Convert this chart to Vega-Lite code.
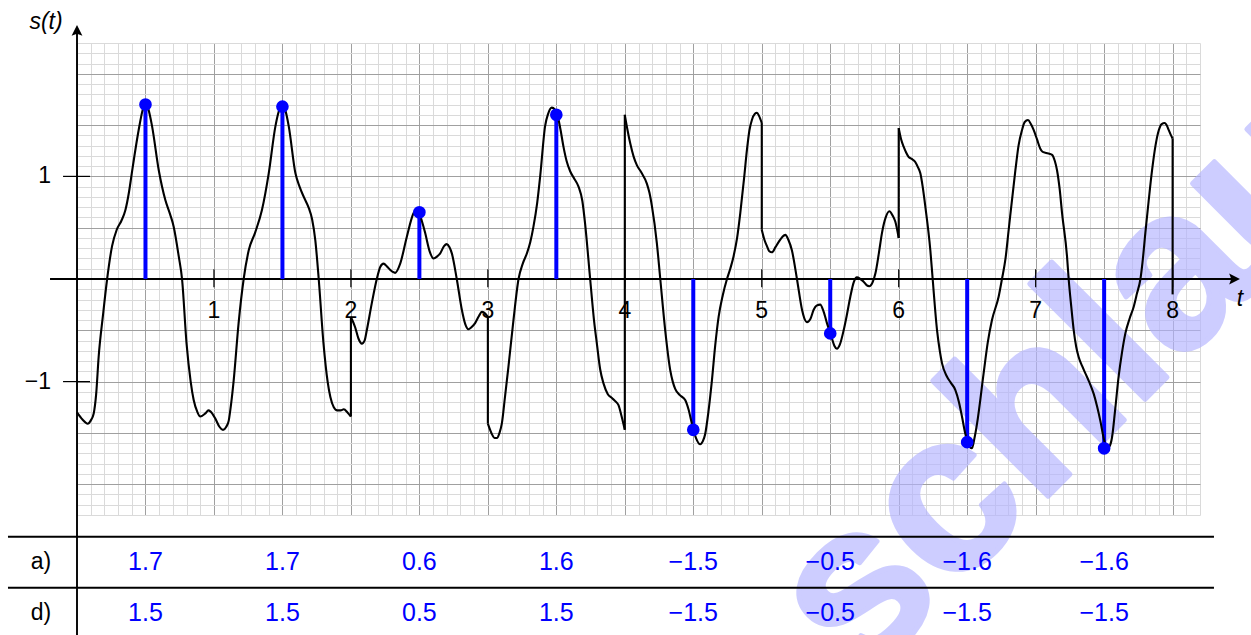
{
  "$schema": "https://vega.github.io/schema/vega-lite/v6.json",
  "autosize": {"type": "none"},
  "padding": {"left": 77, "top": 43, "right": 51, "bottom": 120},
  "width": 1123,
  "height": 472,
  "background": "white",
  "config": {"view": {"stroke": null}, "font": "Liberation Sans"},
  "datasets": {
    "curve": [
      {"g":"A","t":0,"s":-1.30},{"g":"A","t":0.04,"s":-1.37},{"g":"A","t":0.078,"s":-1.41},{"g":"A","t":0.10,"s":-1.38},{"g":"A","t":0.122,"s":-1.31},{"g":"A","t":0.14,"s":-1.12},{"g":"A","t":0.158,"s":-0.76},{"g":"A","t":0.19,"s":-0.35},{"g":"A","t":0.22,"s":0},{"g":"A","t":0.256,"s":0.32},{"g":"A","t":0.29,"s":0.48},{"g":"A","t":0.325,"s":0.57},{"g":"A","t":0.353,"s":0.67},{"g":"A","t":0.38,"s":0.85},{"g":"A","t":0.40,"s":1.03},{"g":"A","t":0.45,"s":1.45},{"g":"A","t":0.48,"s":1.65},{"g":"A","t":0.5,"s":1.71},{"g":"A","t":0.52,"s":1.66},{"g":"A","t":0.548,"s":1.49},{"g":"A","t":0.597,"s":1.06},{"g":"A","t":0.645,"s":0.77},{"g":"A","t":0.68,"s":0.63},{"g":"A","t":0.706,"s":0.51},{"g":"A","t":0.743,"s":0.22},{"g":"A","t":0.767,"s":0},{"g":"A","t":0.80,"s":-0.63},{"g":"A","t":0.83,"s":-1.0},{"g":"A","t":0.852,"s":-1.18},{"g":"A","t":0.88,"s":-1.30},{"g":"A","t":0.90,"s":-1.34},{"g":"A","t":0.937,"s":-1.31},{"g":"A","t":0.96,"s":-1.28},{"g":"A","t":0.974,"s":-1.29},{"g":"A","t":1.01,"s":-1.36},{"g":"A","t":1.04,"s":-1.44},{"g":"A","t":1.066,"s":-1.47},{"g":"A","t":1.09,"s":-1.44},{"g":"A","t":1.108,"s":-1.38},{"g":"A","t":1.125,"s":-1.22},{"g":"A","t":1.144,"s":-0.99},{"g":"A","t":1.18,"s":-0.43},{"g":"A","t":1.217,"s":0},{"g":"A","t":1.254,"s":0.28},{"g":"A","t":1.30,"s":0.45},{"g":"A","t":1.35,"s":0.67},{"g":"A","t":1.40,"s":1.03},{"g":"A","t":1.449,"s":1.49},{"g":"A","t":1.48,"s":1.66},{"g":"A","t":1.5,"s":1.70},{"g":"A","t":1.52,"s":1.65},{"g":"A","t":1.546,"s":1.49},{"g":"A","t":1.595,"s":1.03},{"g":"A","t":1.625,"s":0.90},{"g":"A","t":1.656,"s":0.80},{"g":"A","t":1.69,"s":0.70},{"g":"A","t":1.717,"s":0.58},{"g":"A","t":1.74,"s":0.38},{"g":"A","t":1.765,"s":0},{"g":"A","t":1.80,"s":-0.63},{"g":"A","t":1.83,"s":-1.0},{"g":"A","t":1.85,"s":-1.15},{"g":"A","t":1.875,"s":-1.25},{"g":"A","t":1.90,"s":-1.28},{"g":"A","t":1.925,"s":-1.28},{"g":"A","t":1.948,"s":-1.27},{"g":"A","t":1.975,"s":-1.30},{"g":"A","t":2.0,"s":-1.34},
      {"g":"J1","t":2.0,"s":-1.34},{"g":"J1","t":2.0,"s":-0.37},
      {"g":"B","t":2.0,"s":-0.37},{"g":"B","t":2.031,"s":-0.47},{"g":"B","t":2.055,"s":-0.58},{"g":"B","t":2.08,"s":-0.63},{"g":"B","t":2.10,"s":-0.60},{"g":"B","t":2.116,"s":-0.50},{"g":"B","t":2.152,"s":-0.24},{"g":"B","t":2.189,"s":0},{"g":"B","t":2.215,"s":0.12},{"g":"B","t":2.238,"s":0.15},{"g":"B","t":2.265,"s":0.12},{"g":"B","t":2.286,"s":0.09},{"g":"B","t":2.305,"s":0.07},{"g":"B","t":2.323,"s":0.06},{"g":"B","t":2.36,"s":0.15},{"g":"B","t":2.408,"s":0.41},{"g":"B","t":2.457,"s":0.64},{"g":"B","t":2.48,"s":0.68},{"g":"B","t":2.493,"s":0.67},{"g":"B","t":2.515,"s":0.58},{"g":"B","t":2.542,"s":0.45},{"g":"B","t":2.575,"s":0.27},{"g":"B","t":2.603,"s":0.20},{"g":"B","t":2.63,"s":0.22},{"g":"B","t":2.652,"s":0.25},{"g":"B","t":2.68,"s":0.32},{"g":"B","t":2.70,"s":0.34},{"g":"B","t":2.72,"s":0.31},{"g":"B","t":2.737,"s":0.25},{"g":"B","t":2.773,"s":0},{"g":"B","t":2.81,"s":-0.30},{"g":"B","t":2.835,"s":-0.44},{"g":"B","t":2.858,"s":-0.49},{"g":"B","t":2.88,"s":-0.47},{"g":"B","t":2.907,"s":-0.43},{"g":"B","t":2.935,"s":-0.36},{"g":"B","t":2.956,"s":-0.32},{"g":"B","t":2.975,"s":-0.33},{"g":"B","t":3.0,"s":-0.37},
      {"g":"J2","t":3.0,"s":-0.37},{"g":"J2","t":3.0,"s":-1.41},
      {"g":"C","t":3.0,"s":-1.41},{"g":"C","t":3.029,"s":-1.51},{"g":"C","t":3.05,"s":-1.55},{"g":"C","t":3.066,"s":-1.55},{"g":"C","t":3.085,"s":-1.50},{"g":"C","t":3.102,"s":-1.41},{"g":"C","t":3.125,"s":-1.15},{"g":"C","t":3.15,"s":-0.86},{"g":"C","t":3.187,"s":-0.40},{"g":"C","t":3.224,"s":0},{"g":"C","t":3.255,"s":0.15},{"g":"C","t":3.285,"s":0.25},{"g":"C","t":3.31,"s":0.36},{"g":"C","t":3.333,"s":0.51},{"g":"C","t":3.36,"s":0.74},{"g":"C","t":3.382,"s":1.0},{"g":"C","t":3.418,"s":1.49},{"g":"C","t":3.44,"s":1.61},{"g":"C","t":3.467,"s":1.67},{"g":"C","t":3.49,"s":1.65},{"g":"C","t":3.504,"s":1.62},{"g":"C","t":3.53,"s":1.46},{"g":"C","t":3.552,"s":1.29},{"g":"C","t":3.575,"s":1.15},{"g":"C","t":3.601,"s":1.05},{"g":"C","t":3.63,"s":0.98},{"g":"C","t":3.662,"s":0.90},{"g":"C","t":3.69,"s":0.76},{"g":"C","t":3.71,"s":0.54},{"g":"C","t":3.747,"s":0},{"g":"C","t":3.775,"s":-0.40},{"g":"C","t":3.796,"s":-0.63},{"g":"C","t":3.82,"s":-0.88},{"g":"C","t":3.845,"s":-1.02},{"g":"C","t":3.875,"s":-1.12},{"g":"C","t":3.906,"s":-1.16},{"g":"C","t":3.93,"s":-1.19},{"g":"C","t":3.954,"s":-1.23},{"g":"C","t":3.975,"s":-1.33},{"g":"C","t":4.0,"s":-1.47},
      {"g":"J3","t":4.0,"s":-1.47},{"g":"J3","t":4.0,"s":1.60},
      {"g":"D","t":4.0,"s":1.60},{"g":"D","t":4.02,"s":1.45},{"g":"D","t":4.04,"s":1.32},{"g":"D","t":4.065,"s":1.19},{"g":"D","t":4.088,"s":1.11},{"g":"D","t":4.12,"s":1.04},{"g":"D","t":4.161,"s":0.93},{"g":"D","t":4.18,"s":0.84},{"g":"D","t":4.198,"s":0.71},{"g":"D","t":4.234,"s":0.35},{"g":"D","t":4.259,"s":0},{"g":"D","t":4.295,"s":-0.50},{"g":"D","t":4.332,"s":-0.89},{"g":"D","t":4.35,"s":-1.0},{"g":"D","t":4.368,"s":-1.07},{"g":"D","t":4.40,"s":-1.13},{"g":"D","t":4.441,"s":-1.18},{"g":"D","t":4.465,"s":-1.27},{"g":"D","t":4.49,"s":-1.41},{"g":"D","t":4.52,"s":-1.55},{"g":"D","t":4.551,"s":-1.61},{"g":"D","t":4.57,"s":-1.58},{"g":"D","t":4.587,"s":-1.51},{"g":"D","t":4.61,"s":-1.30},{"g":"D","t":4.636,"s":-0.99},{"g":"D","t":4.66,"s":-0.65},{"g":"D","t":4.685,"s":-0.37},{"g":"D","t":4.715,"s":-0.16},{"g":"D","t":4.746,"s":0},{"g":"D","t":4.77,"s":0.10},{"g":"D","t":4.794,"s":0.22},{"g":"D","t":4.82,"s":0.40},{"g":"D","t":4.843,"s":0.64},{"g":"D","t":4.87,"s":0.97},{"g":"D","t":4.892,"s":1.26},{"g":"D","t":4.91,"s":1.45},{"g":"D","t":4.928,"s":1.55},{"g":"D","t":4.95,"s":1.61},{"g":"D","t":4.965,"s":1.62},{"g":"D","t":4.98,"s":1.59},{"g":"D","t":5.0,"s":1.52},
      {"g":"J4","t":5.0,"s":1.52},{"g":"J4","t":5.0,"s":0.48},
      {"g":"E","t":5.0,"s":0.48},{"g":"E","t":5.02,"s":0.38},{"g":"E","t":5.038,"s":0.32},{"g":"E","t":5.055,"s":0.27},{"g":"E","t":5.074,"s":0.26},{"g":"E","t":5.10,"s":0.31},{"g":"E","t":5.123,"s":0.36},{"g":"E","t":5.15,"s":0.41},{"g":"E","t":5.172,"s":0.43},{"g":"E","t":5.195,"s":0.38},{"g":"E","t":5.22,"s":0.28},{"g":"E","t":5.257,"s":0},{"g":"E","t":5.294,"s":-0.30},{"g":"E","t":5.31,"s":-0.38},{"g":"E","t":5.33,"s":-0.42},{"g":"E","t":5.355,"s":-0.39},{"g":"E","t":5.379,"s":-0.30},{"g":"E","t":5.40,"s":-0.26},{"g":"E","t":5.427,"s":-0.25},{"g":"E","t":5.45,"s":-0.31},{"g":"E","t":5.476,"s":-0.43},{"g":"E","t":5.508,"s":-0.56},{"g":"E","t":5.53,"s":-0.65},{"g":"E","t":5.549,"s":-0.68},{"g":"E","t":5.57,"s":-0.64},{"g":"E","t":5.598,"s":-0.50},{"g":"E","t":5.62,"s":-0.36},{"g":"E","t":5.647,"s":-0.17},{"g":"E","t":5.672,"s":-0.03},{"g":"E","t":5.695,"s":0.016},{"g":"E","t":5.72,"s":0.0},{"g":"E","t":5.744,"s":-0.026},{"g":"E","t":5.765,"s":-0.06},{"g":"E","t":5.785,"s":-0.07},{"g":"E","t":5.81,"s":-0.03},{"g":"E","t":5.83,"s":0.055},{"g":"E","t":5.855,"s":0.25},{"g":"E","t":5.878,"s":0.45},{"g":"E","t":5.905,"s":0.60},{"g":"E","t":5.932,"s":0.66},{"g":"E","t":5.955,"s":0.62},{"g":"E","t":5.975,"s":0.56},{"g":"E","t":6.0,"s":0.40},
      {"g":"J5","t":6.0,"s":0.40},{"g":"J5","t":6.0,"s":1.47},
      {"g":"F","t":6.0,"s":1.47},{"g":"F","t":6.018,"s":1.36},{"g":"F","t":6.036,"s":1.29},{"g":"F","t":6.055,"s":1.23},{"g":"F","t":6.072,"s":1.19},{"g":"F","t":6.095,"s":1.17},{"g":"F","t":6.121,"s":1.14},{"g":"F","t":6.14,"s":1.09},{"g":"F","t":6.158,"s":1.03},{"g":"F","t":6.175,"s":0.90},{"g":"F","t":6.194,"s":0.71},{"g":"F","t":6.231,"s":0.28},{"g":"F","t":6.248,"s":0},{"g":"F","t":6.28,"s":-0.50},{"g":"F","t":6.30,"s":-0.70},{"g":"F","t":6.316,"s":-0.82},{"g":"F","t":6.352,"s":-0.95},{"g":"F","t":6.38,"s":-1.01},{"g":"F","t":6.413,"s":-1.08},{"g":"F","t":6.44,"s":-1.20},{"g":"F","t":6.462,"s":-1.34},{"g":"F","t":6.485,"s":-1.50},{"g":"F","t":6.499,"s":-1.57},{"g":"F","t":6.52,"s":-1.64},{"g":"F","t":6.535,"s":-1.65},{"g":"F","t":6.552,"s":-1.56},{"g":"F","t":6.572,"s":-1.41},{"g":"F","t":6.62,"s":-0.92},{"g":"F","t":6.65,"s":-0.62},{"g":"F","t":6.681,"s":-0.40},{"g":"F","t":6.73,"s":-0.17},{"g":"F","t":6.754,"s":0},{"g":"F","t":6.78,"s":0.20},{"g":"F","t":6.803,"s":0.48},{"g":"F","t":6.852,"s":1.06},{"g":"F","t":6.875,"s":1.30},{"g":"F","t":6.90,"s":1.45},{"g":"F","t":6.92,"s":1.53},{"g":"F","t":6.944,"s":1.55},{"g":"F","t":6.965,"s":1.51},{"g":"F","t":6.986,"s":1.45},{"g":"F","t":7.01,"s":1.36},{"g":"F","t":7.034,"s":1.27},{"g":"F","t":7.05,"s":1.24},{"g":"F","t":7.071,"s":1.23},{"g":"F","t":7.10,"s":1.22},{"g":"F","t":7.12,"s":1.21},{"g":"F","t":7.14,"s":1.15},{"g":"F","t":7.156,"s":1.06},{"g":"F","t":7.175,"s":0.88},{"g":"F","t":7.193,"s":0.64},{"g":"F","t":7.229,"s":0.22},{"g":"F","t":7.241,"s":0},{"g":"F","t":7.26,"s":-0.27},{"g":"F","t":7.278,"s":-0.50},{"g":"F","t":7.296,"s":-0.66},{"g":"F","t":7.314,"s":-0.76},{"g":"F","t":7.34,"s":-0.85},{"g":"F","t":7.363,"s":-0.92},{"g":"F","t":7.39,"s":-1.0},{"g":"F","t":7.424,"s":-1.12},{"g":"F","t":7.45,"s":-1.25},{"g":"F","t":7.472,"s":-1.38},{"g":"F","t":7.50,"s":-1.57},{"g":"F","t":7.521,"s":-1.65},{"g":"F","t":7.54,"s":-1.63},{"g":"F","t":7.558,"s":-1.54},{"g":"F","t":7.58,"s":-1.28},{"g":"F","t":7.606,"s":-0.95},{"g":"F","t":7.63,"s":-0.72},{"g":"F","t":7.655,"s":-0.53},{"g":"F","t":7.685,"s":-0.39},{"g":"F","t":7.716,"s":-0.27},{"g":"F","t":7.74,"s":-0.14},{"g":"F","t":7.765,"s":0},{"g":"F","t":7.78,"s":0.16},{"g":"F","t":7.801,"s":0.45},{"g":"F","t":7.825,"s":0.76},{"g":"F","t":7.85,"s":1.06},{"g":"F","t":7.875,"s":1.30},{"g":"F","t":7.899,"s":1.45},{"g":"F","t":7.92,"s":1.51},{"g":"F","t":7.942,"s":1.52},{"g":"F","t":7.96,"s":1.49},{"g":"F","t":7.972,"s":1.45},{"g":"F","t":7.985,"s":1.41},{"g":"F","t":8.0,"s":1.37},
      {"g":"J6","t":8.0,"s":1.37},{"g":"J6","t":8.0,"s":-0.15}
    ],
    "samples": [
      {"t":0.5,"s":1.70},{"t":1.5,"s":1.68},{"t":2.5,"s":0.65},{"t":3.5,"s":1.60},
      {"t":4.5,"s":-1.47},{"t":5.5,"s":-0.53},{"t":6.5,"s":-1.59},{"t":7.5,"s":-1.65}
    ],
    "table": [
      {"t":0.5,"row":"a)","txt":"1.7"},{"t":1.5,"row":"a)","txt":"1.7"},{"t":2.5,"row":"a)","txt":"0.6"},{"t":3.5,"row":"a)","txt":"1.6"},
      {"t":4.5,"row":"a)","txt":"−1.5"},{"t":5.5,"row":"a)","txt":"−0.5"},{"t":6.5,"row":"a)","txt":"−1.6"},{"t":7.5,"row":"a)","txt":"−1.6"},
      {"t":0.5,"row":"d)","txt":"1.5"},{"t":1.5,"row":"d)","txt":"1.5"},{"t":2.5,"row":"d)","txt":"0.5"},{"t":3.5,"row":"d)","txt":"1.5"},
      {"t":4.5,"row":"d)","txt":"−1.5"},{"t":5.5,"row":"d)","txt":"−0.5"},{"t":6.5,"row":"d)","txt":"−1.5"},{"t":7.5,"row":"d)","txt":"−1.5"}
    ],
    "xticks": [
      {"t":1,"lab":"1"},{"t":2,"lab":"2"},{"t":3,"lab":"3"},{"t":4,"lab":"4"},
      {"t":5,"lab":"5"},{"t":6,"lab":"6"},{"t":7,"lab":"7"},{"t":8,"lab":"8"}
    ],
    "yticks": [{"s":1,"lab":"1"},{"s":-1,"lab":"−1"}]
  },
  "layer": [
    {
      "data": {"name": "curve"},
      "mark": {"type": "line", "opacity": 0},
      "encoding": {
        "x": {"field": "t", "type": "quantitative",
          "scale": {"domain": [0, 8.2], "nice": false, "zero": false},
          "axis": {"title": null, "labels": false, "ticks": false, "domain": false, "grid": true, "tickCount": 82,
            "gridWidth": 1,
            "gridColor": {"condition": {"test": "abs(datum.value*2 - round(datum.value*2)) < 0.001", "value": "#a0a0a0"}, "value": "#dadada"}}},
        "y": {"field": "s", "type": "quantitative",
          "scale": {"domain": [-2.3, 2.3], "nice": false, "zero": false},
          "axis": {"title": null, "labels": false, "ticks": false, "domain": false, "grid": true, "tickCount": 46,
            "gridWidth": 1,
            "gridColor": {"condition": {"test": "abs(datum.value*2 - round(datum.value*2)) < 0.001", "value": "#a0a0a0"}, "value": "#dadada"}}},
        "detail": {"field": "g"}
      }
    },
    {
      "data": {"values": [{}]},
      "mark": {"type": "text", "text": "schlau", "font": "Liberation Sans", "fontWeight": "bold", "fontSize": 225,
        "angle": 315, "align": "left", "baseline": "alphabetic", "fill": "#b3b3ff", "stroke": "#b3b3ff", "strokeWidth": 5, "strokeJoin": "round", "opacity": 0.65},
      "encoding": {"x": {"datum": 5.717}, "y": {"datum": -3.95}}
    },
    {
      "data": {"values": [{}]},
      "mark": {"type": "rule", "color": "black", "strokeWidth": 1.9},
      "encoding": {"x": {"datum": 0}, "y": {"datum": 2.42}, "y2": {"datum": -3.7}}
    },
    {
      "data": {"values": [{}]},
      "mark": {"type": "rule", "color": "black", "strokeWidth": 1.9},
      "encoding": {"y": {"datum": 0}, "x": {"datum": -0.197}, "x2": {"datum": 8.45}}
    },
    {
      "data": {"values": [{}]},
      "mark": {"type": "point", "shape": "M0,-1L0.9,0.8L0,0.45L-0.9,0.8Z", "filled": true, "color": "black", "size": 144, "opacity": 1},
      "encoding": {"x": {"datum": 0}, "y": {"datum": 2.417}}
    },
    {
      "data": {"values": [{}]},
      "mark": {"type": "point", "shape": "M1,0L-0.8,0.9L-0.45,0L-0.8,-0.9Z", "filled": true, "color": "black", "size": 144, "opacity": 1},
      "encoding": {"x": {"datum": 8.448}, "y": {"datum": 0}}
    },
    {
      "data": {"name": "yticks"},
      "mark": {"type": "rule", "color": "black", "strokeWidth": 1.2},
      "encoding": {"y": {"field": "s", "type": "quantitative"}, "x": {"datum": -0.102}, "x2": {"datum": 0.095}}
    },
    {
      "data": {"name": "yticks"},
      "mark": {"type": "text", "fontSize": 23, "align": "right", "baseline": "middle", "color": "black"},
      "encoding": {"y": {"field": "s", "type": "quantitative"}, "x": {"datum": -0.19}, "text": {"field": "lab"}}
    },
    {
      "data": {"name": "xticks"},
      "mark": {"type": "rule", "color": "black", "strokeWidth": 1.2},
      "encoding": {"x": {"field": "t", "type": "quantitative"}, "y": {"datum": 0.095}, "y2": {"datum": -0.08}}
    },
    {
      "data": {"name": "xticks"},
      "mark": {"type": "text", "fontSize": 23, "align": "center", "baseline": "middle", "color": "black"},
      "encoding": {"x": {"field": "t", "type": "quantitative"}, "y": {"datum": -0.312}, "text": {"field": "lab"}}
    },
    {
      "data": {"values": [{}]},
      "mark": {"type": "text", "text": "s(t)", "fontSize": 23, "fontStyle": "italic", "align": "center", "baseline": "middle", "color": "black"},
      "encoding": {"x": {"datum": -0.226}, "y": {"datum": 2.505}}
    },
    {
      "data": {"values": [{}]},
      "mark": {"type": "text", "text": "t", "fontSize": 23, "fontStyle": "italic", "align": "center", "baseline": "middle", "color": "black"},
      "encoding": {"x": {"datum": 8.492}, "y": {"datum": -0.195}}
    },
    {
      "data": {"name": "samples"},
      "mark": {"type": "rule", "color": "#0000ff", "strokeWidth": 4},
      "encoding": {"x": {"field": "t", "type": "quantitative"}, "y": {"field": "s", "type": "quantitative"}, "y2": {"datum": 0}}
    },
    {
      "data": {"name": "curve"},
      "mark": {"type": "line", "color": "black", "strokeWidth": 2.1, "interpolate": "monotone", "strokeJoin": "round"},
      "encoding": {"x": {"field": "t", "type": "quantitative"}, "y": {"field": "s", "type": "quantitative"}, "detail": {"field": "g"}}
    },
    {
      "data": {"name": "samples"},
      "mark": {"type": "point", "shape": "circle", "filled": true, "color": "#0000ff", "size": 160, "opacity": 1},
      "encoding": {"x": {"field": "t", "type": "quantitative"}, "y": {"field": "s", "type": "quantitative"}}
    },
    {
      "data": {"values": [{}]},
      "mark": {"type": "rule", "color": "black", "strokeWidth": 2},
      "encoding": {"y": {"datum": -2.512}, "x": {"datum": -0.504}, "x2": {"datum": 8.302}}
    },
    {
      "data": {"values": [{}]},
      "mark": {"type": "rule", "color": "black", "strokeWidth": 2},
      "encoding": {"y": {"datum": -3.009}, "x": {"datum": -0.504}, "x2": {"datum": 8.302}}
    },
    {
      "data": {"values": [{}]},
      "mark": {"type": "text", "text": "a)", "fontSize": 23, "align": "center", "baseline": "middle", "color": "black"},
      "encoding": {"x": {"datum": -0.263}, "y": {"datum": -2.758}}
    },
    {
      "data": {"values": [{}]},
      "mark": {"type": "text", "text": "d)", "fontSize": 23, "align": "center", "baseline": "middle", "color": "black"},
      "encoding": {"x": {"datum": -0.263}, "y": {"datum": -3.255}}
    },
    {
      "data": {"name": "table"},
      "transform": [{"filter": "datum.row === 'a)'"}],
      "mark": {"type": "text", "fontSize": 25, "align": "center", "baseline": "middle", "color": "#0000ff"},
      "encoding": {"x": {"field": "t", "type": "quantitative"}, "y": {"datum": -2.758}, "text": {"field": "txt"}}
    },
    {
      "data": {"name": "table"},
      "transform": [{"filter": "datum.row === 'd)'"}],
      "mark": {"type": "text", "fontSize": 25, "align": "center", "baseline": "middle", "color": "#0000ff"},
      "encoding": {"x": {"field": "t", "type": "quantitative"}, "y": {"datum": -3.255}, "text": {"field": "txt"}}
    }
  ]
}
